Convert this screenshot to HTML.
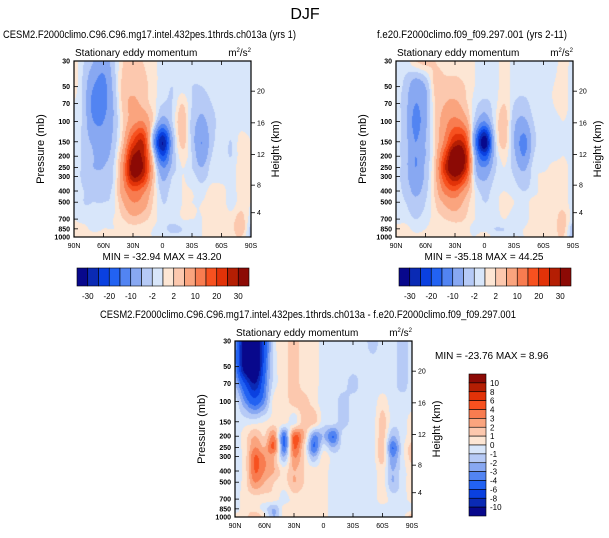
<!DOCTYPE html>
<html><head><meta charset="utf-8"><style>
html,body{margin:0;padding:0;background:#fff;}
#wrap{position:relative;width:609px;height:538px;overflow:hidden;}
canvas,svg{position:absolute;left:0;top:0;}
text{font-family:"Liberation Sans",sans-serif;fill:#000;}
</style></head><body>
<div id="wrap">
<canvas id="cv" width="609" height="538"></canvas>
<svg id="sv" width="609" height="538" xmlns="http://www.w3.org/2000/svg"></svg>
</div>
<script>
const pressures=[30,50,70,100,150,200,250,300,400,500,700,850,1000];
const lats=[90,80,70,60,50,40,30,20,10,0,-10,-20,-30,-40,-50,-60,-70,-80,-90];
const latTickLabels=["90N","60N","30N","0","30S","60S","90S"];
const latTickValues=[90,60,30,0,-30,-60,-90];
const presTicks=[30,50,70,100,150,200,250,300,400,500,700,850,1000];
const heightTicks=[4,8,12,16,20];
const levelsTop=[-30,-25,-20,-15,-10,-5,-2,0,2,5,10,15,20,25,30];
const levelsTopLabels=["-30","-20","-10","-2","2","10","20","30"];
const levelsDiff=[-10,-8,-6,-4,-3,-2,-1,0,1,2,3,4,6,8,10];
const colors=["#08088c","#0a2ab4","#0a40e0","#2262f2","#5284f2","#88a8f2","#b6caf6","#d8e6fa","#fde6d4","#fcc8ae","#faa47e","#f87c50","#f7511f","#e23208","#b41e03","#8c0a05"];

const field1=[
[1,-2,-5,-8,-3,2,3,2,1,-1,-1,-1,-1,-1,-1,-1,-1,-1,-1],
[1,-3,-10,-12,-4,3,4,3,1,-1,-2,-1,-2,-2,-1,-1,-1,-1,-1],
[0,-3,-12,-12,-5,3,6,4,1,-2,-2,2,-2,-4,-2,-1,-1,-1,-1],
[0,-3,-10,-10,-5,2,8,10,2,-8,-2,4,-3,-6,-3,-1,-1,-1,-1],
[0,-3,-6,-8,-4,4,20,25,-5,-30,-6,3,-3,-10,-3,-1,-2,1,0],
[0,-3,-5,-6,-3,8,30,28,2,-20,-5,1,-2,-8,-2,-1,-2,1,0],
[0,-3,-5,-5,-2,10,35,30,5,-10,-4,0,-2,-5,-1,-1,-1,1,0],
[0,-3,-4,-4,-2,10,30,25,5,-6,-2,0,-1,-3,-1,-1,-1,1,0],
[0,-2,-3,-3,-1,8,15,12,3,-3,-1,0,0,-1,1,1,-1,1,0],
[0,-2,-2,-2,-1,5,10,8,2,-2,-1,0,0,0,1,1,-1,1,0],
[0,-1,-1,-1,0,2,4,3,1,-1,-1,0,0,0,1,1,1,3,-1],
[1,1,-1,0,0,1,1,1,0,-1,-3,-2,-1,0,1,1,1,4,-3],
[2,2,2,1,1,1,0,0,0,0,-1,-1,0,0,1,1,1,2,-3]];
const field2=[
[-1,-1,2,3,2,1,1,1,0,-1,-1,1,-1,-1,-1,-1,-1,1,-1],
[-1,-3,-8,-5,3,3,3,2,0,-1,-1,1,-1,-1,-1,-1,0,1,-1],
[-1,-4,-10,-6,2,5,6,3,-1,-3,-1,2,-2,-3,-1,-1,0,1,-1],
[-1,-4,-12,-6,2,8,12,8,-3,-10,-1,4,-4,-6,-2,-1,-1,0,-1],
[-1,-4,-10,-5,2,12,25,22,-10,-35,-4,3,-5,-12,-3,-1,-1,0,-1],
[-1,-4,-10,-5,3,20,40,30,-5,-20,-4,1,-4,-10,-2,-1,-1,0,-1],
[-1,-4,-10,-4,4,25,40,28,-3,-10,-3,0,-3,-6,-1,-1,1,1,-1],
[-1,-4,-8,-4,4,20,30,20,-2,-6,-2,0,-2,-4,-1,1,1,1,-1],
[-1,-3,-6,-3,3,12,15,8,0,-3,-1,0,-1,-2,-1,1,1,1,-1],
[-1,-2,-4,-2,2,6,8,4,0,-2,-1,1,0,-1,1,1,1,1,-1],
[-1,-1,-2,-1,1,2,3,2,0,-1,-1,0,-1,-1,1,1,1,3,-1],
[1,1,-1,0,1,1,1,1,-1,-1,-2,-2,-1,0,1,1,1,3,-4],
[1,1,1,1,1,1,1,1,0,2,-1,-1,0,0,1,1,1,2,-4]];
const fieldDiff=[
[-3,-12,-15,-6,-0.5,0.5,1.5,0.5,0.5,-0.5,-0.5,-0.5,-0.5,-0.5,-1.5,-0.5,-0.5,-1.5,-0.5],
[-3,-12,-15,-5,-0.5,0.5,1.5,0.5,0.5,-0.5,-0.5,-0.5,-0.5,-0.5,-0.5,-0.5,-0.5,-1.5,-0.5],
[-2,-6,-10,-4,-0.5,0.5,1.5,0.5,0.5,-0.5,-0.5,-0.5,-1.5,-0.5,-0.5,-0.5,-0.5,-1.5,-0.5],
[-0.5,-3,-5,-3,0.5,0.5,1.5,1.5,0.5,-0.5,-0.5,-1.5,-0.5,-0.5,-0.5,0.5,-0.5,-0.5,-0.5],
[-0.5,-0.5,-0.5,0,0.5,0.5,-0.5,1.5,1.5,-0.5,-0.5,-1.5,-0.5,-0.5,-0.5,1.5,-0.5,-0.5,0.5],
[-0.5,0.5,2,1,3,-4,4,2,-3,-2,-4,-0.5,-0.5,-0.5,-0.5,1.5,-2,-0.5,0.5],
[-0.5,0.5,3,2,4,-4,4,1,-4,-0.5,-2,-0.5,-0.5,-0.5,-0.5,1.5,-4,-0.5,1.5],
[-0.5,0.5,4,3,2,-2,3,1,-2,0.5,-0.5,-0.5,-0.5,-0.5,-0.5,1.5,-3,-0.5,1.5],
[-0.5,0.5,4,3,2,0.5,2,1,0.5,0.5,-0.5,-0.5,-0.5,-0.5,-0.5,0.5,-2,-0.5,0.5],
[-0.5,0.5,3,2,1,0.5,2,1,0.5,0.5,-0.5,-0.5,-0.5,-0.5,-0.5,0.5,-2,-0.5,0.5],
[-0.5,0.5,0.5,0.5,0.5,-0.5,0.5,0.5,0.5,0.5,-0.5,-0.5,-0.5,-0.5,-0.5,0.5,-0.5,-0.5,0.5],
[-0.5,0.5,0.5,-0.5,-2,0.5,0.5,0.5,0.5,0.5,-0.5,-0.5,-0.5,-0.5,-0.5,-0.5,-0.5,-0.5,-0.5],
[0.5,0.5,2,0.5,-2,0.5,0.5,0.5,0.5,0.5,-0.5,-0.5,-0.5,-0.5,-0.5,-0.5,-0.5,-0.5,2]];

const NS="http://www.w3.org/2000/svg";
const sv=document.getElementById('sv');
const ctx=document.getElementById('cv').getContext('2d');
function mk(tag,attrs,parent,txt){const e=document.createElementNS(NS,tag);for(const k in attrs)e.setAttribute(k,attrs[k]);if(txt!==undefined)e.textContent=txt;(parent||sv).appendChild(e);return e;}
function hex(c){return [parseInt(c.substr(1,2),16),parseInt(c.substr(3,2),16),parseInt(c.substr(5,2),16)];}
const rgb=colors.map(hex);
function cr(p0,p1,p2,p3,t){return 0.5*((2*p1)+(-p0+p2)*t+(2*p0-5*p1+4*p2-p3)*t*t+(-p0+3*p1-3*p2+p3)*t*t*t);}
function sample(f,ri,ci){
  const nr=f.length,nc=f[0].length;
  const r=Math.min(nr-2,Math.floor(ri)),c=Math.min(nc-2,Math.floor(ci));
  const ty=ri-r,tx=ci-c;
  const g=(i,j)=>f[Math.max(0,Math.min(nr-1,i))][Math.max(0,Math.min(nc-1,j))];
  const rows=[];
  for(let k=-1;k<=2;k++)rows.push(cr(g(r+k,c-1),g(r+k,c),g(r+k,c+1),g(r+k,c+2),tx));
  return cr(rows[0],rows[1],rows[2],rows[3],ty);
}

function drawPanel(P){
  const W=177,H=176,x0=P.x,y0=P.y;
  const yP=p=>y0+Math.log(p/30)/Math.log(1000/30)*H;
  const xL=l=>x0+(90-l)/180*W;
  const rowY=pressures.map(p=>yP(p)-y0);
  const img=ctx.createImageData(W,H);
  for(let py=0;py<H;py++){
    const yy=py+0.5;let r=0;while(r<pressures.length-2&&rowY[r+1]<yy)r++;
    const ty=Math.min(1,Math.max(0,(yy-rowY[r])/(rowY[r+1]-rowY[r])));
    const ri=r+ty;
    for(let px=0;px<W;px++){
      const ci=(px+0.5)/W*(lats.length-1);
      const v=sample(P.field,ri,ci);
      let k=0;while(k<P.levels.length&&v>=P.levels[k])k++;
      const col=rgb[k],i=(py*W+px)*4;img.data[i]=col[0];img.data[i+1]=col[1];img.data[i+2]=col[2];img.data[i+3]=255;
    }
  }
  ctx.putImageData(img,x0,y0);
  const g=mk('g',{});
  mk('rect',{x:x0,y:y0,width:W,height:H,fill:'none',stroke:'#000','stroke-width':1.2,},g);
  mk('text',{x:P.tx,y:P.titleY,'font-size':11,textLength:P.tw,lengthAdjust:'spacingAndGlyphs',},g,P.title);
  mk('text',{x:x0+1,y:y0-5,'font-size':10,},g,'Stationary eddy momentum');
  const u=mk('text',{x:x0+W,y:y0-5,'font-size':10,'text-anchor':'end',},g);
  u.innerHTML='m<tspan dy="-4" font-size="6">2</tspan><tspan dy="4">/s</tspan><tspan dy="-4" font-size="6">2</tspan>';
  presTicks.forEach(p=>{const y=yP(p);
    mk('line',{x1:x0,x2:x0+4,y1:y,y2:y,stroke:'#000','stroke-width':0.8},g);
    mk('text',{x:x0-4,y:y+2.5,'font-size':7,'font-weight':'bold','text-anchor':'end',},g,String(p));});
  heightTicks.forEach(h=>{const p=h<=11?1013.25*Math.pow(1-h/44.33,5.256):226.3*Math.exp(-(h-11)/6.34);const y=yP(p);
    mk('line',{x1:x0+W,x2:x0+W+4,y1:y,y2:y,stroke:'#000','stroke-width':0.8},g);
    mk('text',{x:x0+W+6,y:y+2.5,'font-size':7,},g,String(h));});
  latTickValues.forEach((l,i)=>{const x=xL(l);
    mk('line',{x1:x,x2:x,y1:y0+H,y2:y0+H-4,stroke:'#000','stroke-width':0.8},g);
    mk('line',{x1:x,x2:x,y1:y0,y2:y0+4,stroke:'#000','stroke-width':0.8},g);
    mk('text',{x:x,y:y0+H+11,'font-size':7,'text-anchor':'middle',},g,latTickLabels[i]);});
  mk('text',{transform:`translate(${x0-30},${y0+H/2}) rotate(-90)`,'font-size':11,'text-anchor':'middle',},g,'Pressure (mb)');
  mk('text',{transform:`translate(${x0+W+28},${y0+H/2}) rotate(-90)`,'font-size':11,'text-anchor':'middle',},g,'Height (km)');
}

mk('text',{x:305,y:19,'font-size':16,'text-anchor':'middle',},sv,'DJF');
drawPanel({x:74,y:61,field:field1,levels:levelsTop,name:'panel-test',titleY:38,tx:3,tw:293,title:'CESM2.F2000climo.C96.C96.mg17.intel.432pes.1thrds.ch013a (yrs 1)'});
drawPanel({x:396,y:61,field:field2,levels:levelsTop,name:'panel-control',titleY:38,tx:377,tw:190,title:'f.e20.F2000climo.f09_f09.297.001 (yrs 2-11)'});
drawPanel({x:235,y:341,field:fieldDiff,levels:levelsDiff,name:'panel-difference',titleY:318,tx:100,tw:416,title:'CESM2.F2000climo.C96.C96.mg17.intel.432pes.1thrds.ch013a - f.e20.F2000climo.f09_f09.297.001'});

mk('text',{x:162,y:260,'font-size':10,'text-anchor':'middle',},sv,'MIN = -32.94  MAX =  43.20');
mk('text',{x:484,y:260,'font-size':10,'text-anchor':'middle',},sv,'MIN = -35.18  MAX =  44.25');
mk('text',{x:435,y:359,'font-size':10,},sv,'MIN = -23.76  MAX =   8.96');

function hbar(x0,name){const g=mk('g',{});const bw=172/16;
  colors.forEach((c,i)=>mk('rect',{x:x0+i*bw,y:268,width:bw,height:18,fill:c,stroke:'#000','stroke-width':0.6,},g));
  levelsTopLabels.forEach((t,i)=>mk('text',{x:x0+(2*i+1)*bw,y:299,'font-size':8,'text-anchor':'middle',},g,t));}
hbar(77,'colorbar-left');hbar(399,'colorbar-right');
(function(){const g=mk('g',{});const bh=142/16;
  for(let i=0;i<16;i++)mk('rect',{x:469,y:374+i*bh,width:17,height:bh,fill:colors[15-i],stroke:'#000','stroke-width':0.6,},g);
  for(let i=0;i<15;i++)mk('text',{x:490,y:374+(i+1)*bh+3,'font-size':8,},g,String(levelsDiff[14-i]));})();
</script>
</body></html>
